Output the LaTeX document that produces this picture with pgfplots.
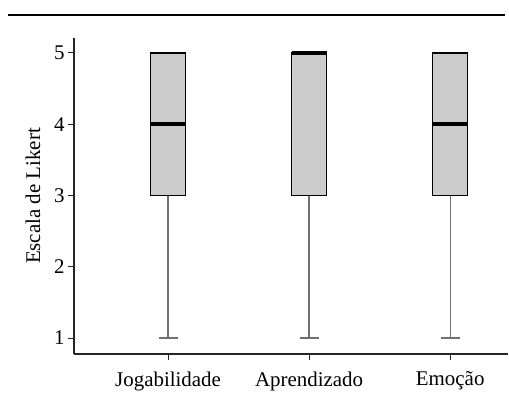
\documentclass[border=0pt]{standalone}
\usepackage{pgfplots}
\pgfplotsset{compat=1.18}
\usepgfplotslibrary{statistics}
\usepackage{fontspec}
\setmainfont{Liberation Serif}
\definecolor{boxfill}{HTML}{CCCCCC}
\definecolor{whisk}{HTML}{707070}
\begin{document}
\begin{tikzpicture}[x=1bp,y=1bp]
\path (0,0) rectangle (509,401);
\draw[line width=1.3bp, black] (8,386) -- (505,386);
\begin{axis}[
  at={(74bp,47bp)}, anchor=south west,
  scale only axis, width=434bp, height=316bp,
  xmin=0.333, xmax=3.41, ymin=0.776, ymax=5.21,
  axis x line*=bottom, axis y line*=left,
  axis line style={line width=1.1bp, black!85},
  tick style={line width=1bp, black!85},
  tick align=outside, major tick length=6bp,
  xtick={1,2,3},
  xticklabels={Jogabilidade,Aprendizado,Emoção},
  ytick={1,2,3,4,5},
  /pgf/number format/assume math mode=true,
  ticklabel style={font=\fontsize{21}{24}\selectfont},
  xticklabel style={yshift=-8bp},
  ylabel={Escala de Likert},
  ylabel style={at={(axis description cs:-0.0945,0.5)}, anchor=center, font=\fontsize{21}{24}\selectfont},
  boxplot/draw direction=y,
  boxplot/box extend=0.25,
  boxplot/whisker extend=0.135,
  boxplot/every box/.style={draw=black, line width=1.2bp, fill=boxfill},
  boxplot/every whisker/.style={whisk, line width=1.3bp},
  boxplot/every median/.style={black, line width=4bp},
]
\addplot+[mark=none, boxplot prepared={draw position=1, median=4, lower quartile=3, upper quartile=5, lower whisker=1, upper whisker=5}] coordinates {};
\addplot+[mark=none, boxplot prepared={draw position=2, median=5, lower quartile=3, upper quartile=5, lower whisker=1, upper whisker=5}] coordinates {};
\addplot+[mark=none, boxplot prepared={draw position=3, median=4, lower quartile=3, upper quartile=5, lower whisker=1, upper whisker=5}] coordinates {};
\end{axis}
\pgfresetboundingbox
\path (0,0) rectangle (509,401);
\end{tikzpicture}
\end{document}
